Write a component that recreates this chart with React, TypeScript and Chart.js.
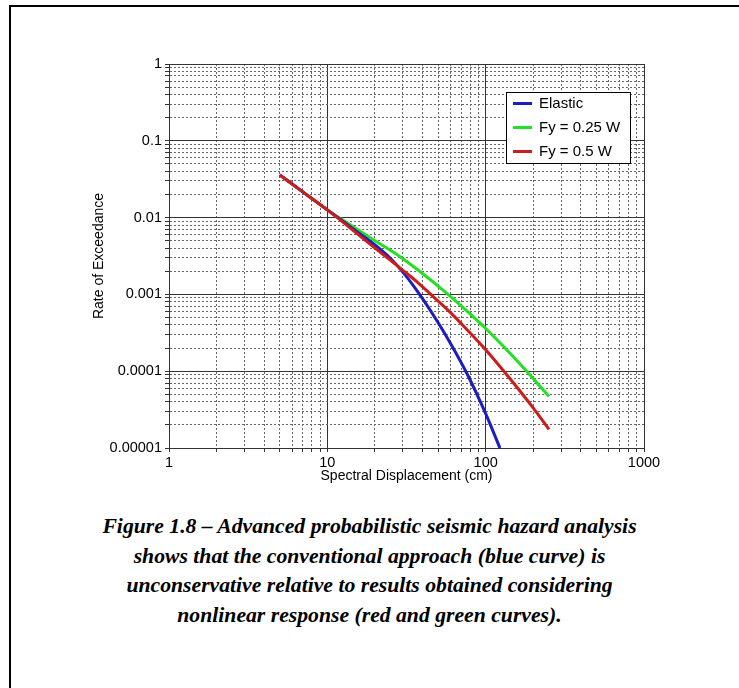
import React, { useEffect, useRef } from "react";
import { Chart, registerables } from "chart.js";

Chart.register(...registerables);

// ---- data ----
const elasticX = [5, 7, 10, 12, 15, 20, 25, 30, 37, 49, 60, 76, 100, 123];
const elasticY = [0.036, 0.0216, 0.0126, 0.0096, 0.0068, 0.0044, 0.00295, 0.00195, 0.0011, 0.00046, 0.00023, 0.000094, 0.000028, 0.00001];

const fy025X = [5, 7, 10, 12, 15, 20, 28.8, 36.7, 54, 76, 100, 143, 200, 251];
const fy025Y = [0.036, 0.0216, 0.0126, 0.0098, 0.0073, 0.005, 0.0031, 0.00214, 0.00113, 0.00061, 0.00036, 0.00017, 0.00008, 0.000047];

const fy05X = [5, 7, 10, 12, 15, 20, 25, 28.8, 36.7, 46.8, 60, 76, 100, 143, 200, 251];
const fy05Y = [0.036, 0.0216, 0.0126, 0.0094, 0.0065, 0.004, 0.0028, 0.0022, 0.00147, 0.00093, 0.00058, 0.00035, 0.00019, 0.000079, 0.000033, 0.0000175];

const seriesLabels = ["Elastic", "Fy = 0.25 W", "Fy = 0.5 W"];
const seriesColors = ["#1c1cc4", "#22e022", "#cc1c1c"];

const xDecades = [1, 10, 100, 1000];
const xTickLabels = ["1", "10", "100", "1000"];
const yDecades = [0.00001, 0.0001, 0.001, 0.01, 0.1, 1];
const yTickLabels = ["0.00001", "0.0001", "0.001", "0.01", "0.1", "1"];

const xTitle = "Spectral Displacement (cm)";
const yTitle = "Rate of Exceedance";

const captionLines = [
  "Figure 1.8 – Advanced probabilistic seismic hazard analysis",
  "shows that the conventional approach (blue curve) is",
  "unconservative relative to results obtained considering",
  "nonlinear response (red and green curves).",
];

// ---- helpers ----
const FONT = '"Liberation Sans", Arial, Helvetica, sans-serif';

function logTicks(decades: number[]): number[] {
  const out: number[] = [];
  for (let i = 0; i < decades.length; i++) {
    const d = decades[i];
    out.push(d);
    if (i < decades.length - 1) {
      for (let m = 2; m <= 9; m++) out.push(parseFloat((d * m).toPrecision(6)));
    }
  }
  return out;
}

function isMajor(v: number): boolean {
  const l = Math.log10(v);
  return Math.abs(l - Math.round(l)) < 1e-6;
}

function labelFor(v: number, decades: number[], labels: string[]): string {
  for (let i = 0; i < decades.length; i++) {
    if (Math.abs(Math.log10(v) - Math.log10(decades[i])) < 1e-6) return labels[i];
  }
  return "";
}

const boxLegend = {
  id: "boxLegend",
  afterDraw(chart: any) {
    const { ctx, chartArea } = chart;
    const x0 = chartArea.left + 337;
    const y0 = chartArea.top + 28;
    const w = 124;
    const h = 71;
    ctx.save();
    ctx.fillStyle = "#ffffff";
    ctx.fillRect(x0, y0, w, h);
    ctx.strokeStyle = "#000000";
    ctx.lineWidth = 1;
    ctx.strokeRect(x0 + 0.5, y0 + 0.5, w, h);
    [0, 1, 2].forEach((i, row) => {
      const ds = chart.data.datasets[i];
      const y = y0 + 11.5 + row * 24;
      ctx.strokeStyle = ds.borderColor;
      ctx.lineWidth = 3;
      ctx.beginPath();
      ctx.moveTo(x0 + 7, y);
      ctx.lineTo(x0 + 26, y);
      ctx.stroke();
      ctx.fillStyle = "#000000";
      ctx.font = `15px ${FONT}`;
      ctx.textBaseline = "middle";
      ctx.textAlign = "left";
      ctx.fillText(ds.label, x0 + 33, y + 0.5);
    });
    ctx.restore();
  },
};

function gridColor(ctx: any) {
  const t = ctx.tick;
  if (!t) return "#333333";
  return isMajor(t.value) ? "#333333" : "#666666";
}
function gridDash(ctx: any) {
  const t = ctx.tick;
  if (!t) return [];
  return isMajor(t.value) ? [] : [2, 2];
}

export default function App() {
  const canvasRef = useRef<HTMLCanvasElement | null>(null);

  useEffect(() => {
    if (!canvasRef.current) return;
    const mk = (xs: number[], ys: number[]) => xs.map((x, i) => ({ x, y: ys[i] }));
    const line = (i: number, xs: number[], ys: number[], order: number) => ({
      label: seriesLabels[i],
      data: mk(xs, ys),
      borderColor: seriesColors[i],
      backgroundColor: seriesColors[i],
      borderWidth: 3,
      pointRadius: 0,
      cubicInterpolationMode: "monotone",
      fill: false,
      order,
    });
    const chart = new Chart(canvasRef.current, {
      type: "line",
      data: {
        datasets: [
          line(0, elasticX, elasticY, 2),
          line(1, fy025X, fy025Y, 3),
          line(2, fy05X, fy05Y, 1),
        ],
      },
      options: {
        responsive: false,
        animation: false,
        events: [],
        layout: { padding: { left: 91, top: 64, right: 95, bottom: 15 } },
        plugins: {
          legend: { display: false },
          tooltip: { enabled: false },
          title: { display: false },
        },
        scales: {
          x: {
            type: "logarithmic",
            min: 1,
            max: 1000,
            afterBuildTicks: (scale: any) => {
              scale.ticks = logTicks(xDecades).map((v) => ({ value: v }));
            },
            afterFit: (scale: any) => {
              scale.height = 37;
            },
            ticks: {
              autoSkip: false,
              maxRotation: 0,
              padding: 2,
              color: "#000",
              font: { family: FONT, size: 14.5 },
              callback: (v: any) => labelFor(Number(v), xDecades, xTickLabels),
            },
            grid: {
              color: gridColor,
              lineWidth: 1,
              tickLength: 4,
              tickColor: "#333333",
            },
            border: { display: true, color: "#333333", width: 1, dash: gridDash },
            title: {
              display: true,
              text: xTitle,
              color: "#000",
              font: { family: FONT, size: 14 },
              padding: { top: 0, bottom: 0 },
            },
          },
          y: {
            type: "logarithmic",
            min: 0.00001,
            max: 1,
            afterBuildTicks: (scale: any) => {
              scale.ticks = logTicks(yDecades).map((v) => ({ value: v }));
            },
            afterFit: (scale: any) => {
              scale.width = 78;
            },
            ticks: {
              autoSkip: false,
              padding: 3,
              color: "#000",
              font: { family: FONT, size: 14.5 },
              callback: (v: any) => labelFor(Number(v), yDecades, yTickLabels),
            },
            grid: {
              color: gridColor,
              lineWidth: 1,
              tickLength: 4,
              tickColor: "#333333",
            },
            border: { display: true, color: "#333333", width: 1, dash: gridDash },
            title: {
              display: true,
              text: yTitle,
              color: "#000",
              font: { family: FONT, size: 14 },
              padding: { top: 0, bottom: 0 },
            },
          },
        },
      } as any,
      plugins: [boxLegend],
    });
    return () => chart.destroy();
  }, []);

  return (
    <div
      style={{
        position: "absolute",
        left: 0,
        top: 0,
        width: 739,
        height: 688,
        background: "#ffffff",
        overflow: "hidden",
      }}
    >
      <div style={{ position: "absolute", left: 9, top: 5, width: 730, height: 2, background: "#000" }} />
      <div style={{ position: "absolute", left: 9, top: 5, width: 2, height: 683, background: "#000" }} />
      <canvas
        ref={canvasRef}
        width={739}
        height={500}
        style={{ position: "absolute", left: 0, top: 0, width: 739, height: 500 }}
      />
      {captionLines.map((text, i) => (
        <div
          key={i}
          style={{
            position: "absolute",
            left: 0,
            width: 739,
            top: 512 + i * 29.5,
            height: 29.5,
            lineHeight: "29.5px",
            textAlign: "center",
            fontFamily: '"Liberation Serif", "Times New Roman", serif',
            fontWeight: "bold",
            fontStyle: "italic",
            fontSize: 21.7,
            color: "#000",
            whiteSpace: "nowrap",
          }}
        >
          {text}
        </div>
      ))}
    </div>
  );
}
